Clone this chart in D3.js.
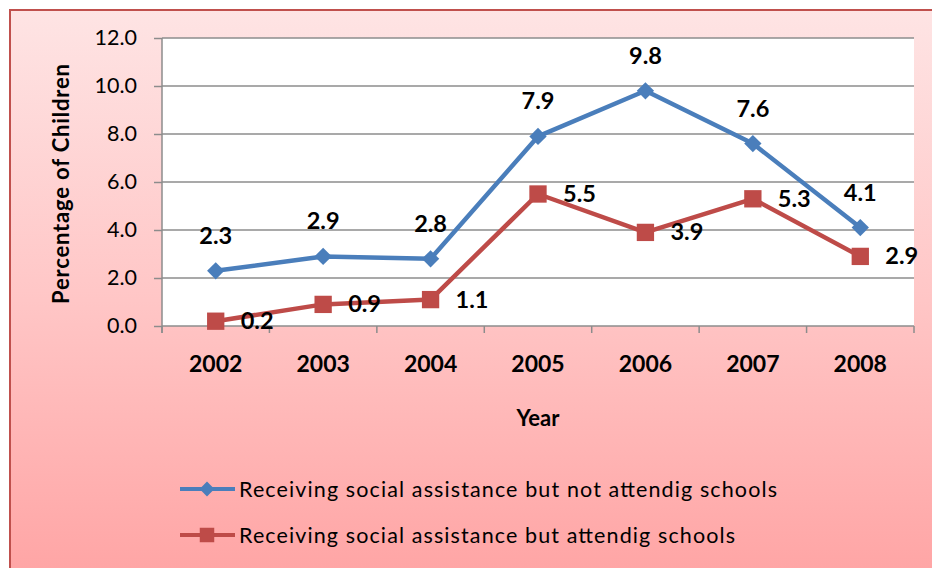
<!DOCTYPE html>
<html><head><meta charset="utf-8">
<script src="https://cdn.jsdelivr.net/npm/d3@7/dist/d3.min.js"></script>
<style>html,body{margin:0;padding:0;background:#fff;}svg{display:block;font-family:Lato,"Open Sans",sans-serif;}</style>
</head><body>
<svg id="c" width="932" height="568"></svg>
<script>
const years = ["2002","2003","2004","2005","2006","2007","2008"];
const notAttending = [2.3, 2.9, 2.8, 7.9, 9.8, 7.6, 4.1];
const attending = [0.2, 0.9, 1.1, 5.5, 3.9, 5.3, 2.9];
const yTicks = [0, 2, 4, 6, 8, 10, 12];
const seriesNames = ["Receiving social assistance but not attendig schools",
                     "Receiving social assistance but attendig schools"];
const colors = ["#4a7ebb", "#be4b48"];

const svg = d3.select("#c");
const defs = svg.append("defs");
const g = defs.append("linearGradient").attr("id","bg").attr("x1",0).attr("y1",0).attr("x2",0).attr("y2",1);
g.append("stop").attr("offset","0%").attr("stop-color","#fee4e4");
g.append("stop").attr("offset","50%").attr("stop-color","#ffc6c6");
g.append("stop").attr("offset","100%").attr("stop-color","#ffa3a3");

svg.append("rect").attr("x",10).attr("y",10).attr("width",940).attr("height",580)
  .attr("fill","url(#bg)").attr("stroke","#c0504d").attr("stroke-width",2);

const L = 162, R = 914, T = 38, B = 326;
const x = d3.scaleBand().domain(years).range([L, R]);
const y = d3.scaleLinear().domain([0, 12]).range([B, T]);

svg.append("rect").attr("x",L).attr("y",T).attr("width",R-L).attr("height",B-T).attr("fill","#fff");

// gridlines
svg.append("g").selectAll("line").data(yTicks.filter(d=>d>0)).join("line")
  .attr("x1",L).attr("x2",R).attr("y1",d=>y(d)).attr("y2",d=>y(d))
  .attr("stroke","#8c8c8c").attr("stroke-width",1.5);

// y axis
const ya = svg.append("g").attr("transform",`translate(${L},0)`)
  .call(d3.axisLeft(y).tickValues(yTicks).tickFormat(d3.format(".1f")).tickSize(8).tickPadding(17));
ya.select(".domain").attr("stroke","#8c8c8c").attr("stroke-width",1.5).attr("d",`M0,${T}V${B+7}`);
ya.selectAll(".tick line").attr("stroke","#8c8c8c").attr("stroke-width",1.5);
ya.selectAll(".tick text").attr("font-family","Lato").attr("font-size",21.5).attr("fill","#000");

// x axis
const xa = svg.append("g").attr("transform",`translate(0,${B})`)
  .call(d3.axisBottom(x).tickSize(0).tickPadding(30));
xa.select(".domain").attr("stroke","#8c8c8c").attr("stroke-width",1.5).attr("d",`M${L},0H${R}`);
xa.selectAll(".tick text").attr("font-family","Lato").attr("font-size",23).attr("font-weight","bold").attr("fill","#000");
const bounds = years.map(d=>x(d)).concat([R]);
xa.append("g").selectAll("line").data(bounds).join("line")
  .attr("x1",d=>d).attr("x2",d=>d).attr("y1",0).attr("y2",7)
  .attr("stroke","#8c8c8c").attr("stroke-width",1.5);

const cx = d => x(d) + x.bandwidth()/2;

// axis titles
svg.append("text").attr("x",538).attr("y",426).attr("text-anchor","middle")
  .attr("font-size",22).attr("font-weight","bold").text("Year");
svg.append("text").attr("transform","translate(69,184) rotate(-90)").attr("text-anchor","middle")
  .attr("font-size",22).attr("font-weight","bold")
  .attr("textLength",240).attr("lengthAdjust","spacing").text("Percentage of Children");

// lines
const data = [notAttending, attending];
const line = d3.line().x((d,i)=>cx(years[i])).y(d=>y(d));
data.forEach((s,k)=>{
  svg.append("path").datum(s).attr("d",line).attr("fill","none")
    .attr("stroke",colors[k]).attr("stroke-width",4.5).attr("stroke-linejoin","round");
});
// markers
svg.append("g").selectAll("path").data(notAttending).join("path")
  .attr("d", d3.symbol(d3.symbolSquare, 150))
  .attr("transform",(d,i)=>`translate(${cx(years[i])},${y(d)}) rotate(45)`)
  .attr("fill",colors[0]);
svg.append("g").selectAll("path").data(attending).join("path")
  .attr("d", d3.symbol(d3.symbolSquare, 300))
  .attr("transform",(d,i)=>`translate(${cx(years[i])},${y(d)})`)
  .attr("fill",colors[1]);

// labels
svg.append("g").selectAll("text").data(notAttending).join("text")
  .attr("x",(d,i)=>cx(years[i])).attr("y",d=>y(d)-27).attr("text-anchor","middle")
  .attr("font-size",23.5).attr("font-weight","bold").text(d=>d3.format(".1f")(d));
svg.append("g").selectAll("text").data(attending).join("text")
  .attr("x",(d,i)=>cx(years[i])+25).attr("y",d=>y(d)+8)
  .attr("font-size",23.5).attr("font-weight","bold").text(d=>d3.format(".1f")(d));

// legend
const ly = [489, 535];
const lg = svg.append("g");
seriesNames.forEach((n,k)=>{
  lg.append("line").attr("x1",180).attr("x2",235).attr("y1",ly[k]).attr("y2",ly[k])
    .attr("stroke",colors[k]).attr("stroke-width",4);
  if(k===0){
    lg.append("path").attr("d",d3.symbol(d3.symbolSquare,110))
      .attr("transform",`translate(207,${ly[k]}) rotate(45)`).attr("fill",colors[k]);
  } else {
    lg.append("path").attr("d",d3.symbol(d3.symbolSquare,210))
      .attr("transform",`translate(207,${ly[k]})`).attr("fill",colors[k]);
  }
  lg.append("text").attr("x",239).attr("y",ly[k]+8).attr("font-size",21.5)
    .attr("textLength", k===0?538:496).attr("lengthAdjust","spacing").text(n);
});
</script>
</body></html>
